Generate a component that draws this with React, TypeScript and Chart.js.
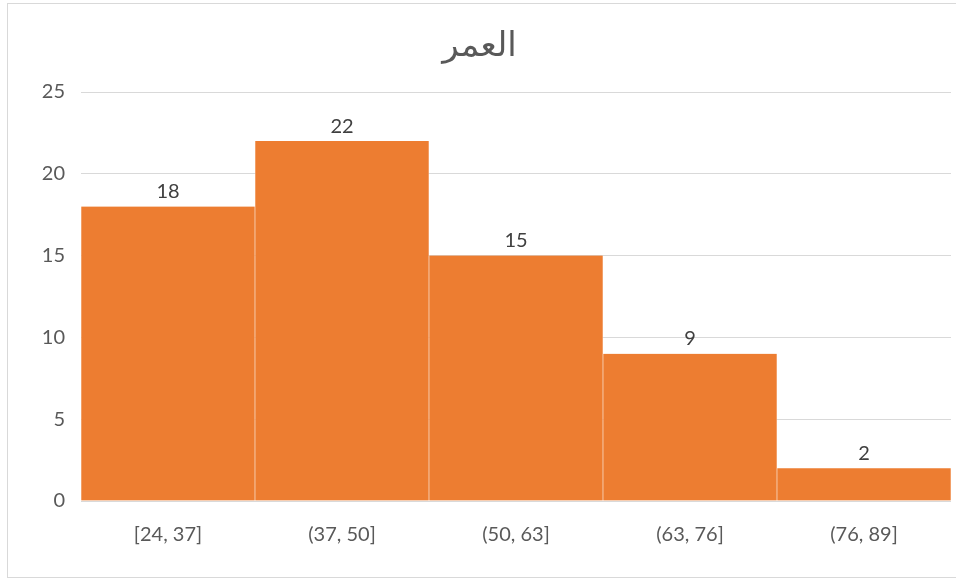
import React, { useEffect, useRef } from "react";
import { Chart, registerables } from "chart.js";

Chart.register(...registerables);

// Age histogram (bins and counts)
const ageBins: string[] = ["[24, 37]", "(37, 50]", "(50, 63]", "(63, 76]", "(76, 89]"];
const counts: number[] = [18, 22, 15, 9, 2];
const yTicks: number[] = [0, 5, 10, 15, 20, 25];
const chartTitle = "العمر";

const FONT = "Lato, 'DejaVu Sans', sans-serif";

// Light frame around the chart
const framePlugin = {
  id: "frame",
  beforeDraw(chart: any) {
    const { ctx } = chart;
    ctx.save();
    ctx.strokeStyle = "#d9d9d9";
    ctx.lineWidth = 1;
    ctx.strokeRect(7.5, 3.5, 1000, 574);
    ctx.restore();
  },
};

// Value labels above each bar
const valueLabelPlugin = {
  id: "valueLabels",
  afterDatasetsDraw(chart: any) {
    const { ctx } = chart;
    const meta = chart.getDatasetMeta(0);
    const data = chart.data.datasets[0].data as number[];
    ctx.save();
    ctx.fillStyle = "#404040";
    ctx.font = `20px ${FONT}`;
    ctx.textAlign = "center";
    ctx.textBaseline = "middle";
    meta.data.forEach((bar: any, i: number) => {
      ctx.fillText(String(data[i]), bar.x, bar.y - 15);
    });
    ctx.restore();
  },
};

export default function App() {
  const canvasRef = useRef<HTMLCanvasElement | null>(null);

  useEffect(() => {
    if (!canvasRef.current) return;
    const chart = new Chart(canvasRef.current, {
      type: "bar",
      data: {
        labels: ageBins,
        datasets: [
          {
            data: counts,
            backgroundColor: "#ED7D31",
            borderColor: "rgba(255,255,255,0.55)",
            borderWidth: { top: 0, bottom: 0, left: 0.6, right: 0.6 },
            borderSkipped: false,
            categoryPercentage: 1,
            barPercentage: 1,
          },
        ],
      },
      options: {
        animation: false,
        responsive: false,
        maintainAspectRatio: false,
        layout: { padding: { top: 3, left: 8, right: 5, bottom: 0 } },
        plugins: {
          legend: { display: false },
          tooltip: { enabled: false },
          title: {
            display: true,
            text: chartTitle,
            color: "#595959",
            font: { family: FONT, size: 34, weight: "normal" },
            padding: { top: 21.6, bottom: 26.6 },
          },
        },
        scales: {
          x: {
            grid: { display: false, drawTicks: false },
            border: { display: false },
            ticks: {
              color: "#595959",
              font: { family: FONT, size: 20 },
              padding: 22,
              maxRotation: 0,
            },
            afterFit(scale: any) {
              scale.height = 80;
            },
          },
          y: {
            min: 0,
            max: 25,
            afterBuildTicks(scale: any) {
              scale.ticks = yTicks.map((v) => ({ value: v }));
            },
            grid: { color: "#d9d9d9", lineWidth: 1, drawTicks: false },
            border: { display: false },
            ticks: {
              color: "#595959",
              font: { family: FONT, size: 20 },
              padding: 16,
            },
            afterFit(scale: any) {
              scale.width = 73;
            },
          },
        },
      },
      plugins: [framePlugin, valueLabelPlugin],
    } as any);
    return () => chart.destroy();
  }, []);

  return (
    <div style={{ position: "fixed", left: 0, top: 0, width: 956, height: 581, background: "#fff" }}>
      <canvas ref={canvasRef} width={956} height={581} style={{ width: 956, height: 581 }} />
    </div>
  );
}
